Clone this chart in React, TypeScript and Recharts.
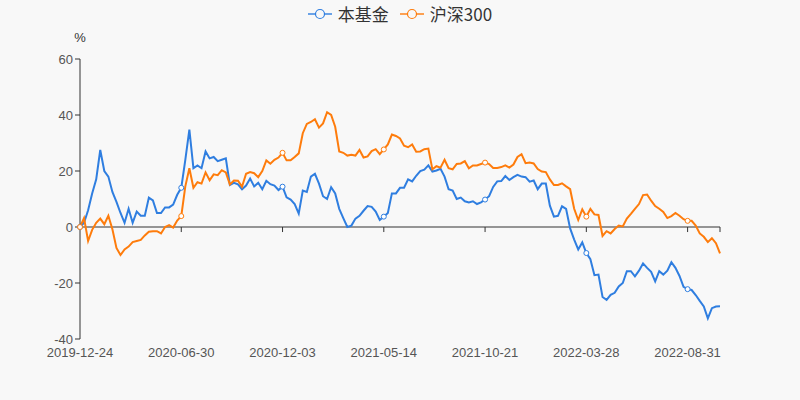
import { LineChart, Line, XAxis, YAxis, ReferenceLine, Legend } from 'recharts';

const tickLabels = ['2019-12-24', '2020-06-30', '2020-12-03', '2021-05-14', '2021-10-21', '2022-03-28', '2022-08-31'];
const labelStep = 25;
const yTicks = [-40, -20, 0, 20, 40, 60];

const fundValues = [
  0, 1.5, 6, 12, 17, 27.5, 20, 18, 12.5, 9, 5, 1.5, 6.5, 1.5, 5.5, 4, 4, 10.5, 9.5, 5,
  5, 7, 7, 8, 11.5, 14, 24, 34.8, 21, 22, 21, 27, 24.5, 25, 23.5, 24, 24.5, 15, 15.8, 15.2,
  13.5, 14.8, 17.3, 14.5, 15.8, 13.5, 16.5, 15.3, 14.8, 13.2, 14.4, 10.6, 9.8, 8.2, 4.8, 13, 12.5, 18, 19, 15.5,
  11, 10, 14.2, 12, 6.5, 3.2, 0, 0.5, 3, 4, 5.8, 7.5, 7.2, 5.5, 2.5, 3.7, 5, 12, 12, 14,
  14, 17, 16.3, 18.3, 20, 20.5, 22, 19.8, 20.2, 20.8, 18, 13.5, 13, 10, 10.5, 9.2, 8.8, 9.2, 8.2, 8.8,
  9.8, 11, 14.3, 16.3, 16.4, 18.2, 16.8, 17.8, 18.6, 18, 17.8, 16.2, 16.6, 13.5, 15.5, 15.5, 7.6, 3.7, 4, 7.4,
  6.5, -0.5, -4.5, -8, -5.5, -9.3, -11.5, -17.2, -17, -25, -26, -24.2, -23.5, -21.2, -20, -15.8, -15.8, -17.6, -15.6, -13,
  -14.6, -16, -19.4, -15.8, -17, -15.6, -12.6, -14.6, -17.5, -21.4, -22.2, -22.5, -24.3, -26.4, -28.4, -32.6, -29, -28.4, -28.3,
];

const hs300Values = [
  0, 3.2, -5, -1, 1.5, 3, 1, 4, -0.8, -7.5, -10, -8, -7, -5.4, -5, -4.6, -3, -1.7, -1.5, -1.5,
  -2.3, 0, 0.7, -0.2, 2.3, 3.9, 14.5, 21, 14, 16, 15.5, 19.5, 16.7, 18.8, 18.5, 20.3, 19.5, 15.2, 16.6, 16.5,
  14.4, 19, 19.6, 19.2, 17.8, 20, 23.8, 22.6, 24, 24.8, 26.5, 23.8, 23.8, 25, 26.3, 33.5, 36.8, 37.5, 38.5, 35.5,
  37, 41, 40, 35.8, 27, 26.5, 25.5, 25.8, 25.5, 27.5, 24.8, 25.2, 27.1, 27.8, 26, 27.7, 29.5, 33, 32.5, 31.6,
  29, 28.5, 29.5, 26.9, 27, 27.8, 28, 20.6, 21.7, 21.2, 24, 21, 20.6, 22.5, 22.7, 23.5, 21, 22, 22, 22.5,
  23, 22.5, 21.1, 21.1, 21.4, 22, 21.2, 22.3, 25, 26, 22.8, 23, 22.7, 20.7, 19.8, 19.6, 17, 15, 15, 15.6,
  14.5, 13.5, 6.5, 2.5, 6.3, 3.7, 6.5, 4.5, 4.3, -3.2, -1.5, -2.3, -0.7, 0.5, 0.2, 3, 4.7, 6.5, 8.2, 11.4,
  11.6, 9.4, 7.5, 6.5, 5.4, 3.2, 3.9, 5, 4, 2.8, 2.2, 2.2, 0.5, -2.3, -3.5, -5.4, -4, -5.8, -9.4,
];

const FUND_COLOR = '#2f7ee0';
const HS_COLOR = '#fe7c0c';
const lastIdx = fundValues.length - 1;
const tickIdx = tickLabels.map((_, i) => i * labelStep);

const data = fundValues.map((v, i) => ({ idx: i, fund: v, hs300: hs300Values[i] }));

const makeDot = (color: string) => (props: any) => {
  const { cx, cy, index } = props;
  if (index % labelStep !== 0) return <g key={`d-${index}`} />;
  return <circle key={`d-${index}`} cx={cx} cy={cy} r={2.5} fill="#fff" stroke={color} strokeWidth={1} />;
};

const legendItems = [
  { name: '本基金', color: FUND_COLOR },
  { name: '沪深300', color: HS_COLOR },
];

const LegendContent = () => (
  <div style={{ display: 'flex', justifyContent: 'center', alignItems: 'center', gap: 11 }}>
    {legendItems.map((it) => (
      <div key={it.name} style={{ display: 'flex', alignItems: 'center' }}>
        <svg width={24} height={14}>
          <line x1={0} y1={7} x2={24} y2={7} stroke={it.color} strokeWidth={2} opacity={0.7} />
          <circle cx={12} cy={7} r={4.5} fill="#f8f8f8" stroke={it.color} strokeWidth={1.2} />
        </svg>
        <span style={{ marginLeft: 6, fontSize: 17, color: '#333', lineHeight: '20px' }}>{it.name}</span>
      </div>
    ))}
  </div>
);

const tickFont = { fill: '#555', fontSize: 13, fontFamily: '"Liberation Sans", Arial, sans-serif' };

export default function App() {
  return (
    <div
      style={{
        position: 'absolute',
        left: 0,
        top: 0,
        width: 800,
        height: 400,
        background: '#f8f8f8',
        fontFamily: '"Noto Sans CJK SC", "Liberation Sans", sans-serif',
      }}
    >
      <LineChart width={800} height={400} data={data} margin={{ top: 59, right: 80, bottom: 31, left: 40 }}>
        <Legend
          verticalAlign="middle"
          align="center"
          content={<LegendContent />}
          wrapperStyle={{ top: 4, left: 0, width: 800 }}
        />
        <XAxis
          type="number"
          dataKey="idx"
          domain={[0, lastIdx]}
          ticks={tickIdx}
          tickFormatter={(v: number) => tickLabels[Math.round(v / labelStep)]}
          axisLine={false}
          tickLine={false}
          tickSize={5}
          tickMargin={4}
          height={30}
          tick={tickFont}
          interval={0}
        />
        <YAxis
          type="number"
          domain={[-40, 60]}
          ticks={yTicks}
          width={40}
          axisLine={{ stroke: '#333' }}
          tickLine={{ stroke: '#333' }}
          tickSize={5}
          tick={tickFont}
          label={{ value: '%', position: 'top', offset: 17, dx: 20, fill: '#333', fontSize: 13, fontFamily: '"Liberation Sans", Arial, sans-serif' }}
        />
        <ReferenceLine y={0} stroke="#333" strokeWidth={1} />
        {[...tickIdx.slice(1), lastIdx].map((t) => (
          <ReferenceLine
            key={`tk-${t}`}
            segment={[{ x: t, y: 0 }, { x: t, y: -1.8 }]}
            stroke="#333"
            ifOverflow="visible"
          />
        ))}
        <Line
          type="linear"
          dataKey="fund"
          name="本基金"
          stroke={FUND_COLOR}
          strokeWidth={2}
          dot={makeDot(FUND_COLOR)}
          activeDot={false}
          isAnimationActive={false}
        />
        <Line
          type="linear"
          dataKey="hs300"
          name="沪深300"
          stroke={HS_COLOR}
          strokeWidth={2}
          dot={makeDot(HS_COLOR)}
          activeDot={false}
          isAnimationActive={false}
        />
      </LineChart>
    </div>
  );
}
